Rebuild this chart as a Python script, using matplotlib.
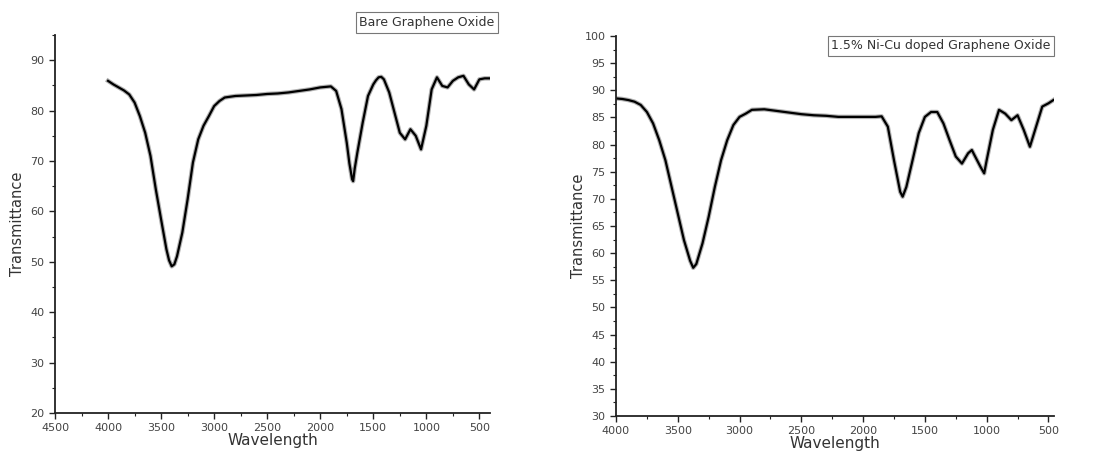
import matplotlib
matplotlib.use("Agg")
import matplotlib.pyplot as plt
from matplotlib.ticker import MultipleLocator

# Bare graphene oxide spectrum (wavenumber, transmittance)
go_wave = [4000, 3950, 3900, 3850, 3800, 3750, 3700, 3650, 3600, 3550, 3500, 3450,
           3425, 3400, 3375, 3350, 3300, 3250, 3200, 3150, 3100, 3050, 3000, 2950,
           2900, 2800, 2700, 2600, 2500, 2400, 2300, 2200, 2100, 2000, 1950, 1900,
           1850, 1800, 1750, 1725, 1700, 1690, 1675, 1650, 1600, 1550, 1500, 1475,
           1450, 1425, 1400, 1350, 1300, 1250, 1200, 1150, 1100, 1050, 1000, 950,
           900, 850, 800, 750, 700, 650, 600, 550, 500, 450, 410]
go_trans = [85.9, 85.2, 84.6, 84.0, 83.2, 81.6, 78.9, 75.6, 71.0, 64.4, 58.4, 52.5,
            50.3, 49.1, 49.5, 51.1, 55.8, 62.4, 69.7, 74.3, 77.0, 78.9, 80.9, 81.9,
            82.6, 82.9, 83.0, 83.1, 83.3, 83.4, 83.6, 83.9, 84.2, 84.6, 84.7, 84.8,
            83.9, 80.3, 73.6, 69.5, 66.4, 66.0, 68.5, 71.7, 77.6, 82.9, 85.2, 86.0,
            86.6, 86.7, 86.2, 83.6, 79.6, 75.6, 74.3, 76.3, 75.0, 72.3, 77.0, 84.2,
            86.6, 84.9, 84.6, 85.9, 86.6, 86.9, 85.2, 84.2, 86.2, 86.4, 86.4]

# 1.5% Ni-Cu doped graphene oxide spectrum
ni_wave = [4000, 3950, 3900, 3850, 3800, 3750, 3700, 3650, 3600, 3550, 3500, 3450,
           3400, 3375, 3350, 3300, 3250, 3200, 3150, 3100, 3050, 3000, 2950, 2900,
           2800, 2700, 2600, 2500, 2400, 2300, 2200, 2100, 2000, 1900, 1850, 1800,
           1750, 1700, 1680, 1650, 1600, 1550, 1500, 1450, 1400, 1350, 1300, 1250,
           1200, 1150, 1120, 1100, 1050, 1020, 1000, 950, 900, 850, 800, 750, 700,
           650, 600, 550, 500, 460]
ni_trans = [88.5, 88.4, 88.2, 87.9, 87.3, 86.0, 83.9, 80.8, 77.1, 72.2, 67.3, 62.4,
            58.6, 57.3, 58.0, 61.8, 66.7, 72.2, 77.1, 80.8, 83.6, 85.1, 85.7, 86.4,
            86.5, 86.2, 85.9, 85.6, 85.4, 85.3, 85.1, 85.1, 85.1, 85.1, 85.2, 83.3,
            77.1, 71.3, 70.4, 72.2, 77.1, 82.1, 85.1, 86.0, 86.0, 83.9, 80.8, 77.8,
            76.5, 78.4, 79.0, 78.1, 75.9, 74.7, 77.1, 82.7, 86.4, 85.7, 84.5, 85.4,
            82.7, 79.6, 83.3, 87.0, 87.6, 88.2]

label_go = "Bare Graphene Oxide"
label_ni = "1.5% Ni-Cu doped Graphene Oxide"

W, H = 1113, 459
fig = plt.figure(figsize=(W / 100, H / 100), dpi=100)

def px_axes(x0, x1, ytop, ybot):
    return fig.add_axes([x0 / W, (H - ybot) / H, (x1 - x0) / W, (ybot - ytop) / H])

tick_color = "#444444"

def style(ax, xmaj, ymaj, yminor, ypad):
    for s in ("top", "right"):
        ax.spines[s].set_visible(False)
    for s in ("left", "bottom"):
        ax.spines[s].set_linewidth(1.3)
        ax.spines[s].set_color("#222222")
    ax.xaxis.set_major_locator(MultipleLocator(xmaj))
    ax.xaxis.set_minor_locator(MultipleLocator(xmaj / 2))
    ax.yaxis.set_major_locator(MultipleLocator(ymaj))
    ax.yaxis.set_minor_locator(MultipleLocator(yminor))
    ax.tick_params(which="major", direction="out", length=4, width=1.0,
                   labelsize=8, labelcolor=tick_color, color="#222222")
    ax.tick_params(which="minor", direction="out", length=2.5, width=0.8,
                   color="#222222")
    ax.set_xlabel("Wavelength", fontsize=11, color="#333333", labelpad=0)
    ax.set_ylabel("Transmittance", fontsize=10.5, color="#333333", labelpad=ypad)

def draw(ax, x, y):
    ax.plot(x, y, color="black", lw=3.2, alpha=0.3, solid_joinstyle="round")
    ax.plot(x, y, color="black", lw=1.6, solid_joinstyle="round")

ax1 = px_axes(55, 490, 35, 413)
draw(ax1, go_wave, go_trans)
ax1.set_xlim(4500, 400)
ax1.set_ylim(20, 95)
style(ax1, 500, 10, 5, 4)
fig.text(427 / W, (H - 22.5) / H, label_go, fontsize=9, color="#333333",
         ha="center", va="center",
         bbox=dict(boxstyle="square,pad=0.3", fc="white", ec="#777777", lw=0.8))

ax2 = px_axes(616, 1054, 36, 416)
draw(ax2, ni_wave, ni_trans)
ax2.set_xlim(4000, 455)
ax2.set_ylim(30, 100)
style(ax2, 500, 5, 2.5, -1)
fig.text(941 / W, (H - 46) / H, label_ni, fontsize=9, color="#333333",
         ha="center", va="center",
         bbox=dict(boxstyle="square,pad=0.3", fc="white", ec="#777777", lw=0.8))

fig.savefig("out.png", dpi=100)
